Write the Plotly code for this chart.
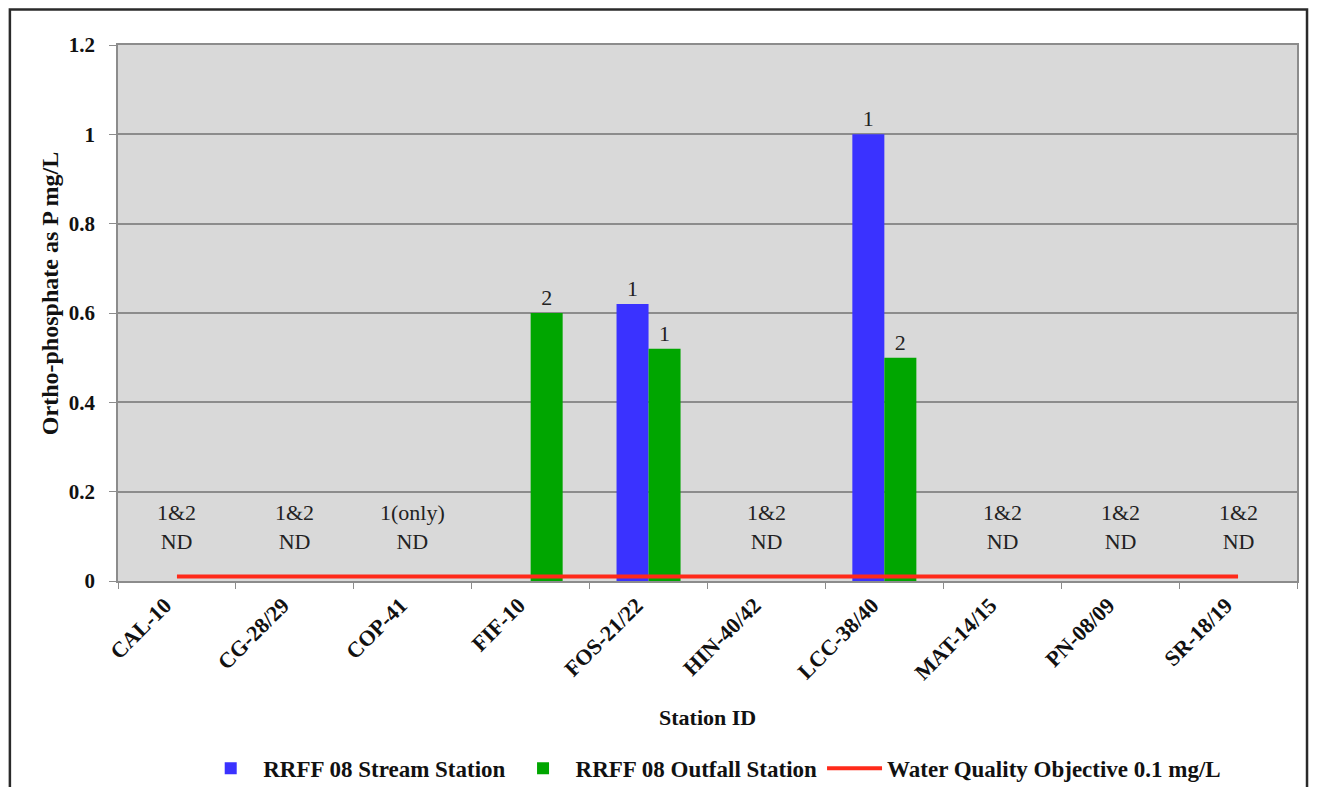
import plotly.graph_objects as go

stations = ["CAL-10", "CG-28/29", "COP-41", "FIF-10", "FOS-21/22",
            "HIN-40/42", "LCC-38/40", "MAT-14/15", "PN-08/09", "SR-18/19"]
stream_vals = [None, None, None, None, 0.62, None, 1.0, None, None, None]
stream_text = ["", "", "", "", "1", "", "1", "", "", ""]
outfall_vals = [None, None, None, 0.6, 0.52, None, 0.5, None, None, None]
outfall_text = ["", "", "", "2", "1", "", "2", "", "", ""]
wqo_vals = [0.01] * 10
nd_labels = ["1&2<br>ND", "1&2<br>ND", "1(only)<br>ND", "", "",
             "1&2<br>ND", "", "1&2<br>ND", "1&2<br>ND", "1&2<br>ND"]
nd_y = 0.122
y_ticks = [0, 0.2, 0.4, 0.6, 0.8, 1.0, 1.2]
y_labels = ["0", "0.2", "0.4", "0.6", "0.8", "1", "1.2"]

FONT = "Liberation Serif"
TXT = "#111111"

fig = go.Figure()
fig.add_trace(go.Bar(
    x=stations, y=stream_vals, name="RRFF 08 Stream Station",
    marker=dict(color="#3A32FF", line=dict(width=0)),
    text=stream_text, textposition="outside", cliponaxis=False,
    textfont=dict(family=FONT, size=22, color="#222222"),
))
fig.add_trace(go.Bar(
    x=stations, y=outfall_vals, name="RRFF 08 Outfall Station",
    marker=dict(color="#00A600", line=dict(width=0)),
    text=outfall_text, textposition="outside", cliponaxis=False,
    textfont=dict(family=FONT, size=22, color="#222222"),
))
fig.add_trace(go.Scatter(
    x=stations, y=wqo_vals, name="Water Quality Objective 0.1 mg/L",
    mode="lines", line=dict(color="#FF2A1A", width=4),
))

for s, lab in zip(stations, nd_labels):
    if lab:
        fig.add_annotation(x=s, y=nd_y, text=lab, showarrow=False,
                           font=dict(family=FONT, size=22, color="#222222"),
                           xref="x", yref="y", align="center",
                           xanchor="center", yanchor="middle")

# axis titles
fig.add_annotation(text="Station ID", xref="paper", yref="paper",
                   x=0.5, y=-0.255, showarrow=False,
                   xanchor="center", yanchor="middle",
                   font=dict(family=FONT, size=22, weight="bold", color=TXT))
fig.add_annotation(text="Ortho-phosphate as P mg/L", xref="paper", yref="paper",
                   x=-0.0577, y=0.537, showarrow=False, textangle=-90,
                   xanchor="center", yanchor="middle",
                   font=dict(family=FONT, size=24, weight="bold", color=TXT))

# outer frame
fig.add_shape(type="rect", xref="paper", yref="paper",
              x0=-0.0917, x1=1.0085, y0=-0.45, y1=1.066,
              line=dict(color="#2a2a2a", width=2.5), layer="below")

fig.update_layout(
    width=1301, height=779,
    margin=dict(l=110, r=12, t=37, b=206, autoexpand=False),
    paper_bgcolor="white", plot_bgcolor="#D9D9D9",
    barmode="group", bargap=0.457, bargroupgap=0,
    font=dict(family=FONT, color=TXT),
    showlegend=True,
    legend=dict(orientation="h", x=0.504, xanchor="center",
                yref="container", y=0.024, yanchor="middle",
                font=dict(family=FONT, size=23, weight="bold", color=TXT),
                bgcolor="rgba(0,0,0,0)", itemwidth=55, tracegroupgap=0),
    xaxis=dict(
        type="category", categoryorder="array", categoryarray=stations,
        tickangle=-45, tickfont=dict(family=FONT, size=22, weight="bold", color=TXT),
        showline=True, linecolor="#8C8C8C", linewidth=1.5, mirror=True,
        ticks="outside", ticklen=6, tickcolor="#8C8C8C", tickson="boundaries",
        ticklabelstandoff=1, ticklabelshift=-12, automargin=False,
        showgrid=False,
    ),
    yaxis=dict(
        range=[0, 1.2], tickvals=y_ticks, ticktext=y_labels,
        tickfont=dict(family=FONT, size=21, weight="bold", color=TXT),
        showline=True, linecolor="#8C8C8C", linewidth=1.5, mirror=True,
        ticks="outside", ticklen=7, tickcolor="#8C8C8C",
        ticklabelstandoff=10, automargin=False,
        showgrid=True, gridcolor="#8C8C8C", gridwidth=1.5, zeroline=False,
    ),
)

fig.write_html("out.html")
